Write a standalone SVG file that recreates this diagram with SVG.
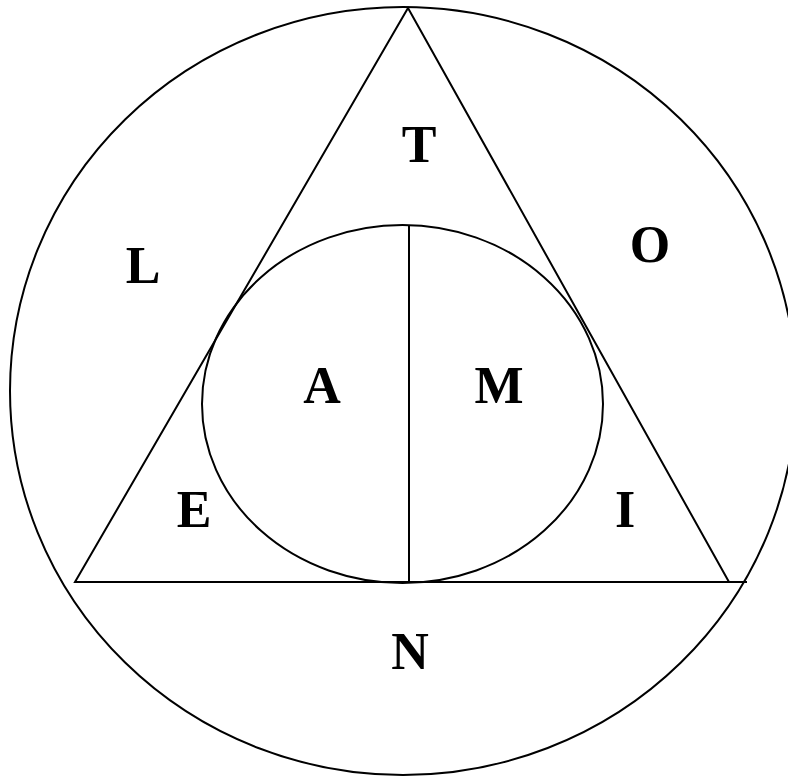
<svg xmlns="http://www.w3.org/2000/svg" width="788" height="776" viewBox="0 0 788 776">
<style>
.s{fill:none;stroke:#000;stroke-width:2}
.t{font-family:"Liberation Serif","Times New Roman",serif;font-weight:bold;font-size:52px;text-anchor:middle;fill:#000}
</style>
<rect width="788" height="776" fill="#fff"/>
<g id="outer"><ellipse class="s" cx="403" cy="391" rx="393" ry="384"/></g>
<g id="triangle"><polygon class="s" points="408,8 75,582 729,582"/></g>
<g id="inner"><ellipse class="s" cx="402.5" cy="404" rx="200.5" ry="179"/></g>
<g id="connectors">
<line class="s" x1="75" y1="582" x2="747" y2="582"/>
<line class="s" x1="409" y1="225" x2="409" y2="583"/>
</g>
<g id="labels">
<text class="t" x="419" y="162">T</text>
<text class="t" x="143" y="283">L</text>
<text class="t" x="650" y="262">O</text>
<text class="t" x="322" y="403">A</text>
<text class="t" x="499" y="403">M</text>
<text class="t" x="194" y="527">E</text>
<text class="t" x="625" y="527">I</text>
<text class="t" x="410" y="669">N</text>
</g>
</svg>
